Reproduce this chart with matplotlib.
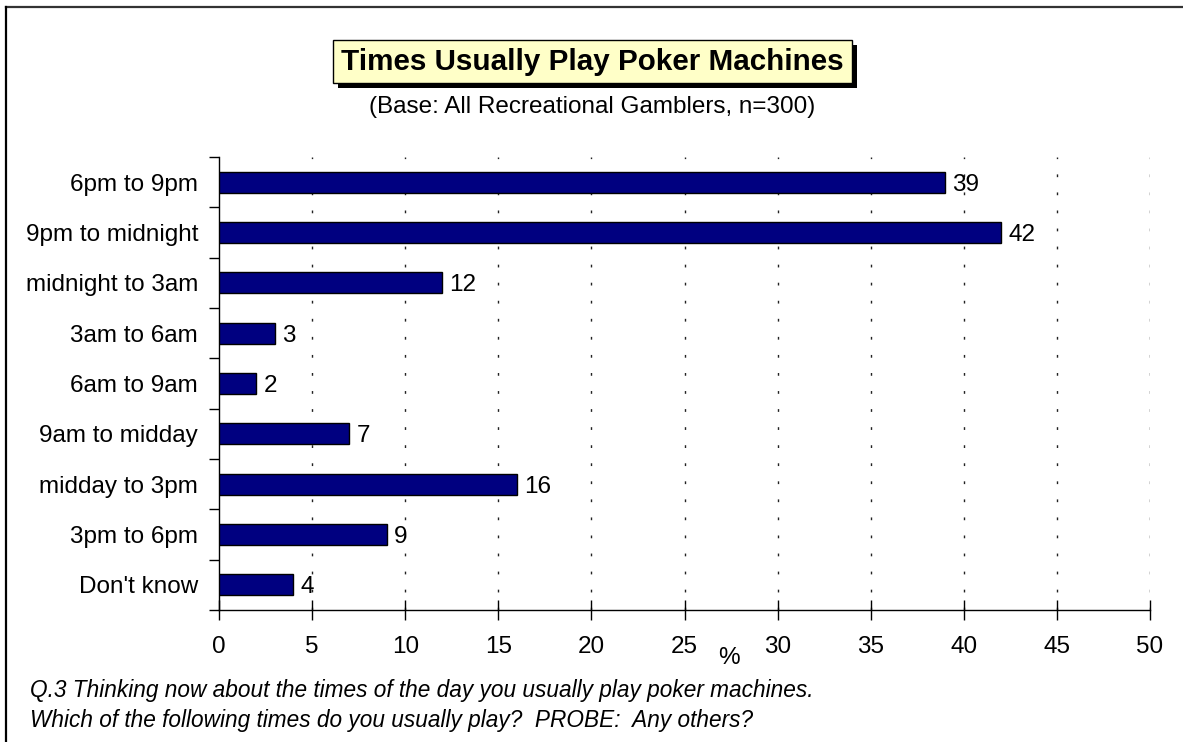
import matplotlib
matplotlib.use("Agg")
import matplotlib.pyplot as plt
from matplotlib.patches import Rectangle
from matplotlib.lines import Line2D
import numpy as np

plt.rcParams['font.family'] = ['Liberation Sans', 'DejaVu Sans']

categories = ["6pm to 9pm", "9pm to midnight", "midnight to 3am", "3am to 6am",
              "6am to 9am", "9am to midday", "midday to 3pm", "3pm to 6pm",
              "Don't know"]
values = [39, 42, 12, 3, 2, 7, 16, 9, 4]
x_ticks = [0, 5, 10, 15, 20, 25, 30, 35, 40, 45, 50]

title = "Times Usually Play Poker Machines"
subtitle = "(Base: All Recreational Gamblers, n=300)"
footnote = ["Q.3 Thinking now about the times of the day you usually play poker machines.",
            "Which of the following times do you usually play?  PROBE:  Any others?"]

W, H = 1183, 742
fig = plt.figure(figsize=(W / 100, H / 100), dpi=100)

def fx(px):
    return px / W

def fy(py):
    return 1 - py / H

ax = fig.add_axes([fx(219), fy(610), fx(1150) - fx(219), fy(157) - fy(610)])

n = len(categories)
ypos = np.arange(n)
ax.barh(ypos, values, height=0.42, color="#000080", edgecolor="black",
        linewidth=1.0, zorder=3)
for y, v in zip(ypos, values):
    ax.text(v + 0.38, y, f"{v}", va="center_baseline", ha="left", fontsize=17.5, zorder=4)

ax.set_xlim(0, 50)
ax.set_ylim(n - 0.5, -0.5)

ax.set_xticks(x_ticks)
ax.set_xticklabels([str(t) for t in x_ticks], fontsize=17.5)
ax.tick_params(axis="x", direction="inout", length=14, width=1, pad=12)

ax.set_yticks(ypos)
ax.set_yticklabels(categories, fontsize=17.5)
ax.tick_params(axis="y", which="major", length=0, pad=15)
ax.set_yticks(np.arange(n + 1) - 0.5, minor=True)
ax.tick_params(axis="y", which="minor", direction="out", length=7, width=1)

for t in x_ticks[1:]:
    ax.axvline(t, color="#222222", linewidth=1, linestyle=(0, (2, 11)), zorder=1)

for side in ["top", "right"]:
    ax.spines[side].set_visible(False)
for side in ["left", "bottom"]:
    ax.spines[side].set_linewidth(1)

fig.text(fx(729), fy(658), "%", fontsize=17.5, ha="center", va="center")

# title box with drop shadow
bx0, by0, bx1, by1 = 333, 40, 852, 83
fig.add_artist(Rectangle((fx(bx0 + 5), fy(by1 + 5)), fx(bx1) - fx(bx0), fy(by0) - fy(by1),
                         transform=fig.transFigure, facecolor="black", edgecolor="none", zorder=1))
fig.add_artist(Rectangle((fx(bx0), fy(by1)), fx(bx1) - fx(bx0), fy(by0) - fy(by1),
                         transform=fig.transFigure, facecolor="#FFFFC8", edgecolor="black",
                         linewidth=1, zorder=2))
fig.text(fx((bx0 + bx1) / 2), fy((by0 + by1) / 2), title, fontsize=21.3,
         fontweight="bold", ha="center", va="center", zorder=3)

fig.text(fx(592), fy(107), subtitle, fontsize=17.5, ha="center", va="center")

fig.text(fx(30), fy(691), footnote[0], fontsize=16.3, style="italic", ha="left", va="center")
fig.text(fx(30), fy(720), footnote[1], fontsize=16.3, style="italic", ha="left", va="center")

# outer frame
fig.add_artist(Line2D([fx(6), 1], [fy(7), fy(7)], transform=fig.transFigure,
                      color="#333333", linewidth=1.6))
fig.add_artist(Line2D([fx(6), fx(6)], [fy(7), 0], transform=fig.transFigure,
                      color="black", linewidth=1.6))

fig.savefig("out.png", dpi=100)
